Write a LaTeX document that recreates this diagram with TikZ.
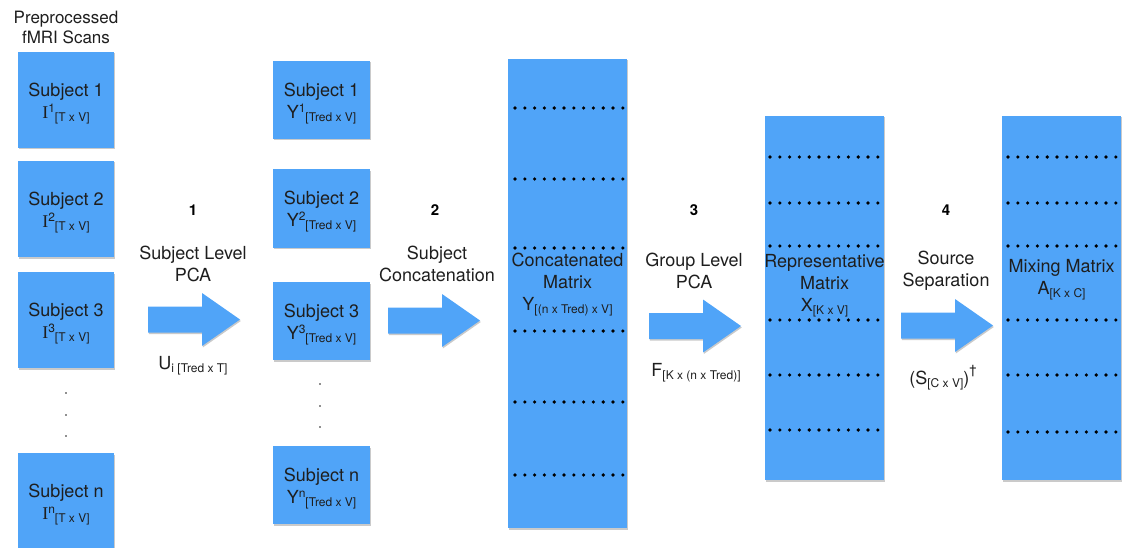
\documentclass[tikz,border=0pt]{standalone}
\usepackage{fontspec}
\setmainfont{TeX Gyre Heros}
\newfontfamily\serfont{Liberation Serif}
\usetikzlibrary{shadows}
\definecolor{boxblue}{RGB}{80,164,248}
\definecolor{txt}{RGB}{30,30,30}
\newcommand\lowsub[1]{\raisebox{-3pt}{\fontsize{12}{12}\selectfont #1}}
\newcommand\highsup[1]{\raisebox{6pt}{\fontsize{12}{12}\selectfont #1}}
\tikzset{
  bluebox/.style={fill=boxblue, draw=none, inner sep=0pt, align=center, text=txt,
    font=\fontsize{18}{22}\selectfont,
    drop shadow={shadow xshift=0.8pt, shadow yshift=-1.5pt, opacity=0.35, fill=black!60}},
  lbl/.style={font=\fontsize{18}{22}\selectfont, text=txt, align=center, inner sep=0pt},
  numlbl/.style={font=\fontsize{15}{18}\selectfont\bfseries, text=black, inner sep=0pt},
  matdot/.style={fill=black},
  bigarrow/.style={fill=boxblue, drop shadow={shadow xshift=0.8pt, shadow yshift=-1.5pt, opacity=0.35, fill=black!60}},
  smalldot/.style={fill=txt}
}
\newcommand\blockarrow[2]{%
  \path[bigarrow] (#1,#2-13) -- (#1+54,#2-13) -- (#1+54,#2-26.5) -- (#1+92,#2)
    -- (#1+54,#2+26.5) -- (#1+54,#2+13) -- (#1,#2+13) -- cycle;}
% #1 = start x, #2 = list of y
\newcommand\dotrows[2]{%
  \foreach \yy in {#2} {\foreach \k in {0,...,11} \fill[matdot] (#1+\k*9.8,\yy) circle (1.8);}}
\begin{document}
\begin{tikzpicture}[x=1pt,y=-1pt]
\useasboundingbox (0,0) rectangle (1126,548);

% column 1
\node[lbl, font=\fontsize{17}{20}\selectfont] (title) at (66,27) {Preprocessed\\fMRI Scans};
\node[bluebox, minimum width=96, minimum height=96] (i1) at (66,100) {\rule{0pt}{20pt}Subject 1\\{\serfont I}\highsup{1}\lowsub{[T x V]}};
\node[bluebox, minimum width=96, minimum height=96] (i2) at (66,209) {\rule{0pt}{20pt}Subject 2\\{\serfont I}\highsup{2}\lowsub{[T x V]}};
\node[bluebox, minimum width=96, minimum height=96] (i3) at (66,320) {\rule{0pt}{20pt}Subject 3\\{\serfont I}\highsup{3}\lowsub{[T x V]}};
\node[bluebox, minimum width=96, minimum height=96] (in) at (66,501) {\rule{0pt}{20pt}Subject n\\{\serfont I}\highsup{n}\lowsub{[T x V]}};
\foreach \yy in {393,415,436} \fill[smalldot] (66,\yy) circle (0.9);

% arrow 1
\node[numlbl] (n1) at (193,210) {1};
\node[lbl] (l1) at (193,264) {Subject Level\\PCA};
\blockarrow{148}{319.5}
\node[lbl] (u1) at (193,366) {U\lowsub{i [Tred x T]}};

% column 2
\node[bluebox, minimum width=97, minimum height=78] (y1) at (321.5,100) {\rule{0pt}{20pt}Subject 1\\Y\highsup{1}\lowsub{[Tred x V]}};
\node[bluebox, minimum width=97, minimum height=78] (y2) at (321.5,208.5) {\rule{0pt}{20pt}Subject 2\\Y\highsup{2}\lowsub{[Tred x V]}};
\node[bluebox, minimum width=97, minimum height=78] (y3) at (321.5,321) {\rule{0pt}{20pt}Subject 3\\Y\highsup{3}\lowsub{[Tred x V]}};
\node[bluebox, minimum width=97, minimum height=78] (yn) at (321.5,485) {\rule{0pt}{20pt}Subject n\\Y\highsup{n}\lowsub{[Tred x V]}};
\foreach \yy in {384,406,427} \fill[smalldot] (320,\yy) circle (0.9);

% arrow 2
\node[numlbl] (n2) at (435,210) {2};
\node[lbl] (l2) at (437,264) {Subject\\Concatenation};
\blockarrow{388}{320.5}

% concatenated matrix
\node[bluebox, minimum width=119, minimum height=469] (concat) at (567.5,293.5) {};
\dotrows{515}{108,179,248,331,402,475}
\node[lbl] (concatlbl) at (567.5,285) {Concatenated\\Matrix\\Y\lowsub{[(n x Tred) x V]}};

% arrow 3
\node[numlbl] (n3) at (694,210) {3};
\node[lbl] (l3) at (694,271) {Group Level\\PCA};
\blockarrow{649}{326}
\node[lbl] (f3) at (696,373) {F\lowsub{[K x (n x Tred)]}};

% representative matrix
\node[bluebox, minimum width=119, minimum height=364] (repr) at (824.5,298) {};
\dotrows{770}{157,203,246,320,375,430}
\node[lbl] (reprlbl) at (824.5,285.5) {Representative\\Matrix\\X\lowsub{[K x V]}};

% arrow 4
\node[numlbl] (n4) at (946,210) {4};
\node[lbl] (l4) at (946,271) {Source\\Separation};
\blockarrow{901}{325.5}
\node[lbl] (s4) at (943,378) {(S\lowsub{[C x V]})\raisebox{10pt}{\fontsize{13}{13}\selectfont\dag}};

% mixing matrix
\node[bluebox, minimum width=119, minimum height=364] (mix) at (1061.5,298) {};
\dotrows{1008}{157,203,246,320,375,432}
\node[lbl] (mixlbl) at (1061.5,280) {Mixing Matrix\\A\lowsub{[K x C]}};
\end{tikzpicture}
\end{document}
